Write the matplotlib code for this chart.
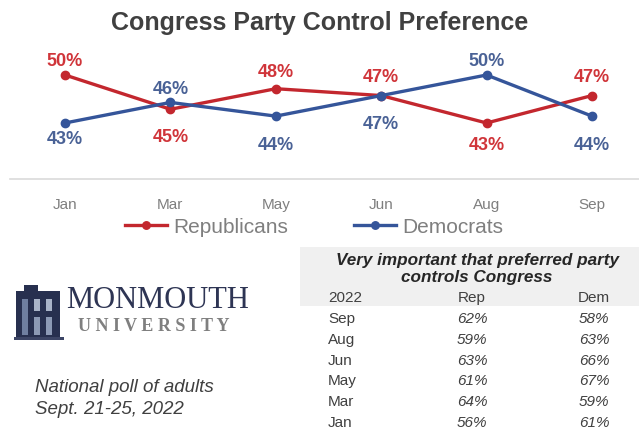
import matplotlib
matplotlib.use('Agg')
import matplotlib.pyplot as plt
from matplotlib.patches import Rectangle

# ---------------- data ----------------
months = ['Jan', 'Mar', 'May', 'Jun', 'Aug', 'Sep']
republicans = [50, 45, 48, 47, 43, 47]
democrats = [43, 46, 44, 47, 50, 44]

table_title = 'Very important that preferred party\ncontrols Congress'
table_header = ['2022', 'Rep', 'Dem']
table_months = ['Sep', 'Aug', 'Jun', 'May', 'Mar', 'Jan']
table_rep = [62, 59, 63, 61, 64, 56]
table_dem = [58, 63, 66, 67, 59, 61]

# ---------------- style / layout ----------------
W, H = 639, 431
plt.rcParams['font.family'] = ['Liberation Sans', 'DejaVu Sans']
fig = plt.figure(figsize=(W / 100, H / 100), dpi=100)
fig.patch.set_facecolor('white')


def fx(px):
    return px / W


def fy(py):
    return 1 - py / H


red = '#C3272E'
blue = '#35559A'
red_lbl = '#D0353A'
blue_lbl = '#4A6296'

# label offsets in pixels (positive = above)
rep_dy = [14, -27, 17, 19, -22, 19]
dem_dy = [-16, 14, -28, -28, 14, -28]

ax = fig.add_axes([fx(10), fy(180), fx(629), (180 - 40) / H])
xs = list(range(len(months)))
l_rep, = ax.plot(xs, republicans, color=red, lw=2.4, marker='o', ms=6,
                 label='Republicans', zorder=3)
l_dem, = ax.plot(xs, democrats, color=blue, lw=2.4, marker='o', ms=6,
                 label='Democrats', zorder=4)

for xi, v, dy in zip(xs, republicans, rep_dy):
    ax.annotate(f'{v}%', (xi, v), xytext=(0, dy), textcoords='offset pixels',
                ha='center', va='center', fontsize=13, fontweight='bold',
                color=red_lbl, zorder=5)
for xi, v, dy in zip(xs, democrats, dem_dy):
    ax.annotate(f'{v}%', (xi, v), xytext=(0, dy), textcoords='offset pixels',
                ha='center', va='center', fontsize=13, fontweight='bold',
                color=blue_lbl, zorder=5)

ax.set_xlim(-0.522, 5.446)
ax.set_ylim(34.83, 55.25)
ax.set_xticks(xs)
ax.set_xticklabels(months)
ax.set_yticks([])
ax.tick_params(axis='x', length=0, pad=13, labelsize=11, labelcolor='#7F7F7F')
for s in ['top', 'left', 'right']:
    ax.spines[s].set_visible(False)
ax.spines['bottom'].set_color('#DADADA')
ax.spines['bottom'].set_linewidth(1.2)
ax.patch.set_alpha(0)

# title
fig.text(fx(320), fy(23), 'Congress Party Control Preference', ha='center',
         va='center', fontsize=18, fontweight='bold', color='#404040')

# legend
fig.legend(handles=[l_rep, l_dem], loc='center left',
           bbox_to_anchor=(fx(125), fy(228)), ncol=2, frameon=False,
           fontsize=15, handlelength=2.0, handletextpad=0.3,
           columnspacing=3.2, borderpad=0, borderaxespad=0,
           labelcolor='#7F7F7F', markerscale=0.9)

# ---------------- table ----------------
fig.patches.append(Rectangle((fx(300), fy(307)), fx(339), (307 - 248) / H,
                             transform=fig.transFigure, facecolor='#F0F0F0',
                             edgecolor='none', zorder=0))
fig.text(fx(477), fy(269), table_title, ha='center', va='center',
         fontsize=12.3, fontweight='bold', style='italic', color='#262626',
         linespacing=1.1)
col_x = [328, 472, 594]
tcol = '#404040'
fig.text(fx(col_x[0]), fy(298), table_header[0], ha='left', va='center',
         fontsize=11, color=tcol)
fig.text(fx(col_x[1]), fy(298), table_header[1], ha='center', va='center',
         fontsize=11, color=tcol)
fig.text(fx(col_x[2]), fy(298), table_header[2], ha='center', va='center',
         fontsize=11, color=tcol)
row_y0, row_step = 319, 20.8
for i, (m, r, d) in enumerate(zip(table_months, table_rep, table_dem)):
    yy = fy(row_y0 + i * row_step)
    fig.text(fx(col_x[0]), yy, m, ha='left', va='center', fontsize=11,
             color=tcol)
    fig.text(fx(col_x[1]), yy, f'{r}%', ha='center', va='center',
             fontsize=11, style='italic', color=tcol)
    fig.text(fx(col_x[2]), yy, f'{d}%', ha='center', va='center',
             fontsize=11, style='italic', color=tcol)

# ---------------- logo ----------------
navy = '#27304F'


def rect(x0, y0, x1, y1, color, z=1):
    fig.patches.append(Rectangle((fx(x0), fy(y1)), fx(x1 - x0), (y1 - y0) / H,
                                 transform=fig.transFigure, facecolor=color,
                                 edgecolor='none', zorder=z))


rect(16, 292, 60, 338, navy)
rect(24, 286, 38, 294, navy)
rect(22, 300, 28, 336, '#6F7FA0', 2)
rect(34, 300, 40, 312, '#A9B4C8', 2)
rect(34, 318, 40, 336, '#8C9AB5', 2)
rect(46, 300, 52, 312, '#A9B4C8', 2)
rect(46, 318, 52, 336, '#8C9AB5', 2)
rect(14, 338, 64, 341, '#3C4565', 2)

fig.text(fx(66), fy(300), 'MONMOUTH', ha='left', va='center',
         fontsize=22, family='Liberation Serif', color='#2E3554')
fig.text(fx(78), fy(327), 'U N I V E R S I T Y', ha='left', va='center',
         fontsize=13, family='Liberation Serif', fontweight='bold',
         color='#7F7F7F')

# footnote
fig.text(fx(35), fy(388), 'National poll of adults', ha='left', va='center',
         fontsize=13.5, style='italic', color='#404040')
fig.text(fx(35), fy(410), 'Sept. 21-25, 2022', ha='left', va='center',
         fontsize=13.5, style='italic', color='#404040')

fig.savefig('out.png', dpi=100, facecolor='white')
